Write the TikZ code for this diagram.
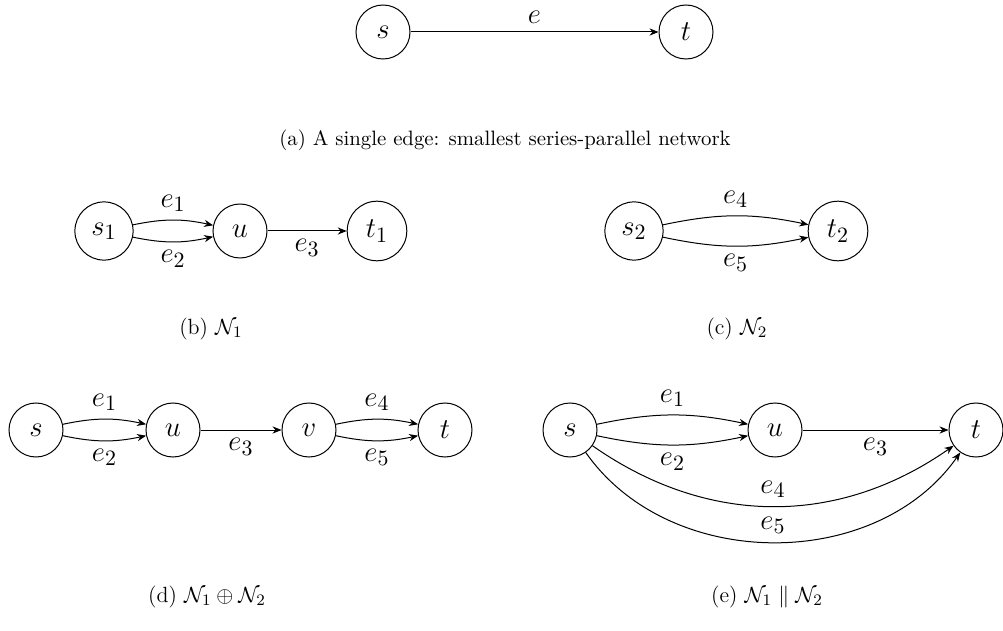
\documentclass[tikz,border=0pt]{standalone}
\usepackage{amsmath}
\usepackage{amssymb}
\usetikzlibrary{
  arrows.meta,
  positioning
}
\tikzset{
  spnode/.style={
    draw, circle, line width=0.5pt, minimum size=27pt, inner sep=5pt,
    font=\fontsize{15}{18}\selectfont
  },
  spedge/.style={-{Stealth[length=4.5pt, width=3.6pt]}, line width=0.5pt},
  elabel/.style={font=\fontsize{15}{18}\selectfont, inner sep=4pt},
  subcap/.style={font=\fontsize{10.4}{12}\selectfont, inner sep=0pt},
  mathcap/.style={subcap, font=\fontsize{11}{13}\selectfont}
}

\begin{document}
\begin{tikzpicture}[x=0.5pt, y=0.5pt]
  \useasboundingbox (0,0) rectangle (1003,-631);
  % (a) single edge
  \node[spnode] (sa) at (383,-32) {$s$};
  \node[spnode] (ta) at (686,-32) {$t$};
  \draw[spedge] (sa) -- node[elabel, above] {$e$} (ta);
  \node[subcap] (capa) at (505,-140) {(a) A single edge: smallest series-parallel network};
  % (b) N1
  \node[spnode] (sb) at (104,-231) {$s_1$};
  \node[spnode] (ub) at (240,-231) {$u$};
  \node[spnode] (tb) at (377,-231) {$t_1$};
  \draw[spedge] (sb) to[bend left=12] node[elabel, above] {$e_1$} (ub);
  \draw[spedge] (sb) to[bend right=12] node[elabel, below] {$e_2$} (ub);
  \draw[spedge] (ub) -- node[elabel, below] {$e_3$} (tb);
  \node[mathcap] (capb) at (211,-329) {(b) $\mathcal{N}_1$};
  % (c) N2
  \node[spnode] (sc) at (634,-231) {$s_2$};
  \node[spnode] (tc) at (838,-231) {$t_2$};
  \draw[spedge] (sc) to[bend left=12] node[elabel, above] {$e_4$} (tc);
  \draw[spedge] (sc) to[bend right=12] node[elabel, below] {$e_5$} (tc);
  \node[mathcap] (capc) at (737,-329) {(c) $\mathcal{N}_2$};
  % (d) series
  \node[spnode] (sd) at (36,-430) {$s$};
  \node[spnode] (ud) at (173,-430) {$u$};
  \node[spnode] (vd) at (309,-430) {$v$};
  \node[spnode] (td) at (445,-430) {$t$};
  \draw[spedge] (sd) to[bend left=12] node[elabel, above] {$e_1$} (ud);
  \draw[spedge] (sd) to[bend right=12] node[elabel, below] {$e_2$} (ud);
  \draw[spedge] (ud) -- node[elabel, below] {$e_3$} (vd);
  \draw[spedge] (vd) to[bend left=12] node[elabel, above] {$e_4$} (td);
  \draw[spedge] (vd) to[bend right=12] node[elabel, below] {$e_5$} (td);
  \node[mathcap] (capd) at (207,-597) {(d) $\mathcal{N}_1 \oplus \mathcal{N}_2$};
  % (e) parallel
  \node[spnode] (se) at (570,-430) {$s$};
  \node[spnode] (ue) at (775,-430) {$u$};
  \node[spnode] (te) at (976,-430) {$t$};
  \draw[spedge] (se) to[bend left=12] node[elabel, above] {$e_1$} (ue);
  \draw[spedge] (se) to[bend right=12] node[elabel, below] {$e_2$} (ue);
  \draw[spedge] (ue) -- node[elabel, below] {$e_3$} (te);
  \draw[spedge] (se) to[bend right=35] node[elabel, above] {$e_4$} (te);
  \draw[spedge] (se) to[bend right=55] node[elabel, above] {$e_5$} (te);
  \node[mathcap] (cape) at (767,-597) {(e) $\mathcal{N}_1 \parallel \mathcal{N}_2$};
\end{tikzpicture}
\end{document}
